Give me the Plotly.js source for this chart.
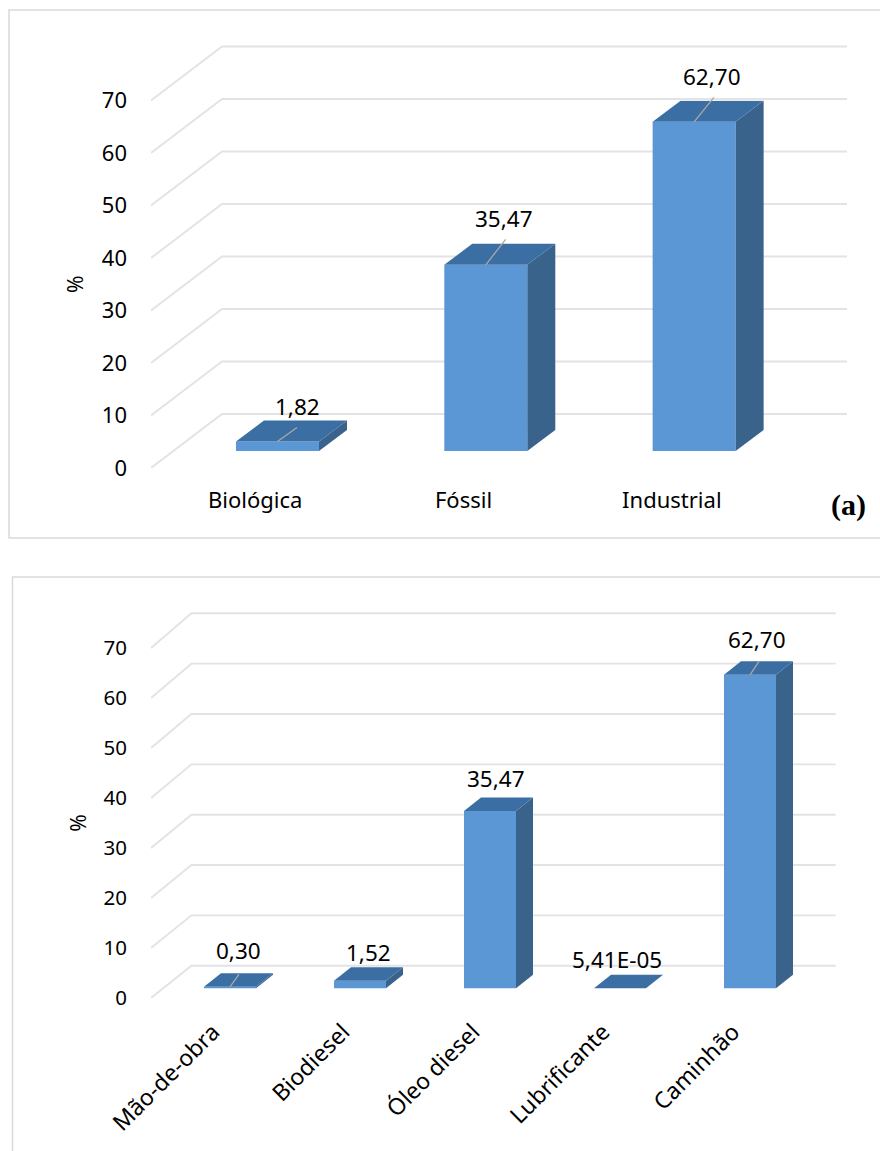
<!DOCTYPE html>
<html>
<head>
<meta charset="utf-8">
<script src="https://cdn.plot.ly/plotly-3.0.1.min.js"></script>
<style>html,body{margin:0;padding:0;background:#fff}</style>
</head>
<body>
<div id="chart" style="width:880px;height:1151px"></div>
<script>
// Energy share by source type, panel (a)
const sourceCategories = ['Biológica', 'Fóssil', 'Industrial'];
const sourceValues = [1.82, 35.47, 62.70];

// Energy share by input, panel (b)
const inputCategories = ['Mão-de-obra', 'Biodiesel', 'Óleo diesel', 'Lubrificante', 'Caminhão'];
const inputValues = [0.30, 1.52, 35.47, 5.41e-5, 62.70];

const gridValues = [0, 10, 20, 30, 40, 50, 60, 70];

const PAGE_W = 880, PAGE_H = 1151;
const FRONT = '#5b97d5', TOP = '#3b6fa3', SIDE = '#3a638c', GRID = '#e3e3e3', FRAME = '#d9d9d9';
const FONT = '"Noto Sans", sans-serif';

// Pixel geometry of each panel's pseudo-3D box
const panelA = {
  wallAxes: '', markAxes: '2', left: 151, catW: 208.33, baseY: 468, pxPerUnit: 5.25,
  wallDx: 71, wallDy: 54, wallGain: 1, wallExtra: 0,
  barShift: 22.3, barW: 83, barLift: 17, depthX: 28, depthY: 21,
  tickFont: 22, catFont: 22, labelFont: 22.5, tickAngle: 0, catStandoff: 17, catNudge: 0,
  valueStandoff: 23, titleStandoff: 12,
  labelShiftX: [6.5, 4, 4], labelLift: [14, 25, 24],
  leaderRun: 21, leaderRise: [15, 27, 26]
};
const panelB = {
  wallAxes: '3', markAxes: '4', left: 151, catW: 130, baseY: 998, pxPerUnit: 5.0,
  wallDx: 41, wallDy: 32.3, wallGain: 1.0068, wallExtra: 4,
  barShift: 14, barW: 52, barLift: 9.7, depthX: 17, depthY: 13.5,
  tickFont: 20.5, catFont: 23, labelFont: 22.5, tickAngle: -45, catStandoff: 15, catNudge: -3,
  valueStandoff: 23, titleStandoff: 11,
  labelShiftX: [0, 0, -3, -12, -1.5], labelLift: [23, 15, 19, 15, 22],
  leaderRun: 10, leaderRise: [14, 0, 0, 0, 15]
};

// Decimal comma; values too small for two decimals use scientific notation
function formatValue(v) {
  if (v !== 0 && Math.abs(v) < 0.01) {
    const [m, e] = v.toExponential(2).split('e');
    const exp = parseInt(e, 10);
    return m.replace('.', ',') + 'E' + (exp < 0 ? '-' : '+') + String(Math.abs(exp)).padStart(2, '0');
  }
  return v.toFixed(2).replace('.', ',');
}

const traces = [], annotations = [], layout = {};

function addPanel(p, categories, values) {
  const xWall = 'x' + p.wallAxes, yWall = 'y' + p.wallAxes;
  const xMark = 'x' + p.markAxes, yMark = 'y' + p.markAxes;
  const toX = px => px / p.catW, toY = px => px / p.pxPerUnit;
  const xRange = [-0.5, categories.length - 0.5];
  const yRange = [0, 70];
  const width = p.catW * categories.length;
  const height = 70 * p.pxPerUnit;

  // The wall axes reach past the box so the back wall has room, at the same scale
  const wallRoom = 90;
  layout['xaxis' + p.wallAxes] = {
    domain: [p.left / PAGE_W, (p.left + width + wallRoom) / PAGE_W],
    range: [xRange[0], xRange[1] + toX(wallRoom)], anchor: yWall, visible: false
  };
  layout['yaxis' + p.wallAxes] = {
    domain: [1 - p.baseY / PAGE_H, 1 - (p.baseY - height - wallRoom) / PAGE_H],
    range: [yRange[0], yRange[1] + toY(wallRoom)], anchor: xWall, visible: false
  };

  // Floor and back wall gridlines, on the lower subplot so bars cover them
  gridValues.forEach(v => {
    const backY = v * p.wallGain + toY(p.wallDy);
    traces.push({
      type: 'scatter', mode: 'lines', xaxis: xWall, yaxis: yWall, hoverinfo: 'skip', showlegend: false,
      x: [xRange[0], xRange[0] + toX(p.wallDx), xRange[1] + toX(p.wallDx + p.wallExtra)],
      y: [v, backY, backY],
      line: { color: GRID, width: 1.9 }
    });
  });

  const centers = categories.map((_, i) => i + toX(p.barShift));
  const half = toX(p.barW) / 2, dx = toX(p.depthX), dy = toY(p.depthY), base = toY(p.barLift);

  // Front faces are real bars sitting on the floor of the box
  traces.push({
    type: 'bar', xaxis: xMark, yaxis: yMark, cliponaxis: false, hoverinfo: 'skip', showlegend: false,
    x: centers, y: values, base: values.map(() => base), width: values.map(() => half * 2),
    marker: { color: FRONT, line: { width: 0 } }
  });

  // Top and side faces follow each bar's value
  values.forEach((v, i) => {
    const x0 = centers[i] - half, x1 = centers[i] + half, y0 = base, y1 = base + v;
    traces.push({
      type: 'scatter', mode: 'lines', fill: 'toself', fillcolor: SIDE, xaxis: xMark, yaxis: yMark, cliponaxis: false,
      hoverinfo: 'skip', showlegend: false, line: { width: 0, color: SIDE },
      x: [x1, x1 + dx, x1 + dx, x1, x1], y: [y0, y0 + dy, y1 + dy, y1, y0]
    });
    traces.push({
      type: 'scatter', mode: 'lines', fill: 'toself', fillcolor: TOP, xaxis: xMark, yaxis: yMark, cliponaxis: false,
      hoverinfo: 'skip', showlegend: false, line: { width: 0, color: TOP },
      x: [x0, x0 + dx, x1 + dx, x1, x0], y: [y1, y1 + dy, y1 + dy, y1, y1]
    });
    // Leader from the bar's top edge towards its label
    if (p.leaderRise[i] > 0) {
      annotations.push({
        xref: xMark, yref: yMark, x: centers[i], y: y1, text: '', showarrow: true, arrowhead: 0,
        ax: p.leaderRun, ay: -p.leaderRise[i], axref: 'pixel', ayref: 'pixel', standoff: 0,
        arrowcolor: '#a9a9a4', arrowwidth: 1.3
      });
    }
    annotations.push({
      xref: xMark, yref: yMark, x: centers[i] + dx / 2, y: y1 + dy,
      xshift: p.labelShiftX[i], yshift: p.labelLift[i], xanchor: 'center', yanchor: 'middle', showarrow: false,
      text: formatValue(v), font: { family: FONT, size: p.labelFont, color: '#000' }
    });
  });

  // Axis pair carrying ticks and title
  layout['xaxis' + p.markAxes] = {
    domain: [p.left / PAGE_W, (p.left + width) / PAGE_W],
    range: xRange, anchor: yMark, tickmode: 'array',
    tickvals: categories.map((_, i) => i + toX(p.catNudge)), ticktext: categories, tickangle: p.tickAngle,
    ticks: '', ticklabelstandoff: p.catStandoff, showgrid: false, zeroline: false, showline: false,
    tickfont: { family: FONT, size: p.catFont, color: '#000' }
  };
  layout['yaxis' + p.markAxes] = {
    domain: [1 - p.baseY / PAGE_H, 1 - (p.baseY - height) / PAGE_H],
    range: yRange, anchor: xMark, tickmode: 'array', tickvals: gridValues,
    ticks: '', ticklabelstandoff: p.valueStandoff, showgrid: false, zeroline: false, showline: false,
    tickfont: { family: FONT, size: p.tickFont, color: '#000' },
    title: { text: '%', standoff: p.titleStandoff, font: { family: FONT, size: 21, color: '#000' } }
  };
}

addPanel(panelA, sourceCategories, sourceValues);
addPanel(panelB, inputCategories, inputValues);

annotations.push({
  xref: 'paper', yref: 'paper', x: 848 / PAGE_W, y: 1 - 505 / PAGE_H, xanchor: 'center', yanchor: 'middle', showarrow: false,
  text: '<b>(a)</b>', font: { family: '"Liberation Serif", serif', size: 30, color: '#000' }
});

const frameRect = (x0, y0, x1, y1) => ({
  type: 'rect', xref: 'paper', yref: 'paper', layer: 'below',
  x0: x0 / PAGE_W, x1: x1 / PAGE_W, y0: 1 - y0 / PAGE_H, y1: 1 - y1 / PAGE_H,
  line: { color: FRAME, width: 1.5 }, fillcolor: 'rgba(0,0,0,0)'
});

Object.assign(layout, {
  width: PAGE_W, height: PAGE_H, autosize: false,
  margin: { l: 0, r: 0, t: 0, b: 0 },
  paper_bgcolor: '#fff', plot_bgcolor: 'rgba(0,0,0,0)',
  showlegend: false, barmode: 'overlay',
  annotations,
  shapes: [frameRect(9, 10, 900, 538), frameRect(12.5, 577, 900, 1170)]
});

Plotly.newPlot('chart', traces, layout, { displayModeBar: false, staticPlot: true });
</script>
</body>
</html>
